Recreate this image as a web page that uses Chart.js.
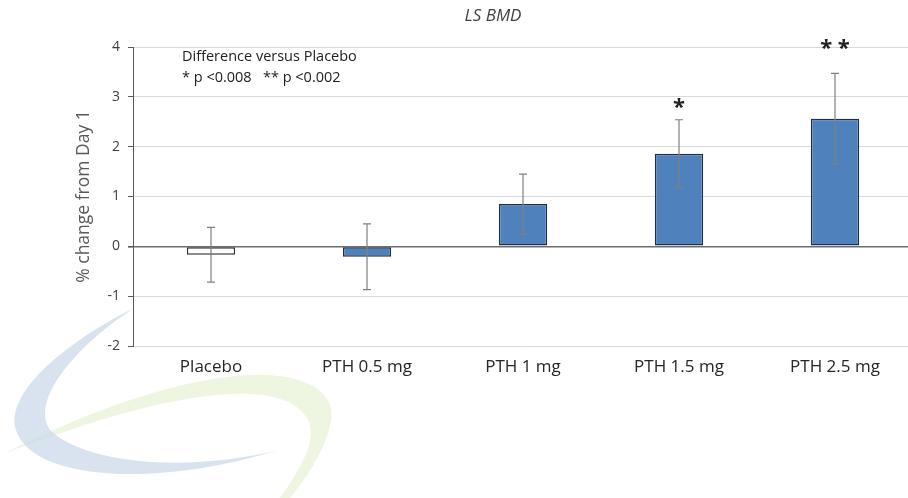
<!DOCTYPE html>
<html>
<head>
<meta charset="utf-8">
<script src="https://cdn.jsdelivr.net/npm/chart.js@4"></script>
<style>
  html, body { margin: 0; padding: 0; background: #fff; overflow: hidden; }
  #wrap { width: 913px; height: 498px; }
</style>
</head>
<body>
<div id="wrap"><canvas id="bmd-chart" width="913" height="498"></canvas></div>
<script>
// LS BMD, % change from Day 1
const groups = ['Placebo', 'PTH 0.5 mg', 'PTH 1 mg', 'PTH 1.5 mg', 'PTH 2.5 mg'];
const meanChange = [-0.17, -0.21, 0.85, 1.86, 2.56];
const errSize = [0.55, 0.66, 0.60, 0.68, 0.91];
const starMarks = ['', '', '', '*', '**'];
const starLevel = [null, null, null, 2.86, 4.04];
const yTicks = [-2, -1, 0, 1, 2, 3, 4];

const FONT = "'Open Sans', 'DejaVu Sans', sans-serif";

// faint logo swoosh behind the plot
const swoosh = {
  id: 'swoosh',
  beforeDraw(chart) {
    const c = chart.ctx;
    c.save();
    c.fillStyle = '#fff';
    c.fillRect(0, 0, chart.width, chart.height);
    // green arc
    c.fillStyle = 'rgba(226, 238, 204, 0.6)';
    c.beginPath();
    c.moveTo(3, 454);
    c.bezierCurveTo(90, 410, 180, 378, 250, 375);
    c.bezierCurveTo(310, 373, 336, 395, 331, 420);
    c.bezierCurveTo(326, 450, 305, 480, 290, 498);
    c.lineTo(280, 498);
    c.bezierCurveTo(300, 470, 318, 440, 308, 420);
    c.bezierCurveTo(298, 400, 270, 392, 230, 394);
    c.bezierCurveTo(160, 398, 80, 425, 3, 454);
    c.closePath();
    c.fill();
    // blue crescent
    c.fillStyle = 'rgba(200, 215, 232, 0.7)';
    c.beginPath();
    c.moveTo(134, 308);
    c.bezierCurveTo(60, 345, 5, 395, 16, 430);
    c.bezierCurveTo(30, 478, 150, 490, 278, 450);
    c.bezierCurveTo(200, 470, 95, 468, 52, 432);
    c.bezierCurveTo(28, 405, 70, 350, 134, 308);
    c.closePath();
    c.fill();
    c.restore();
  }
};

// title, note text, error bars and significance stars
const extras = {
  id: 'extras',
  afterDatasetsDraw(chart) {
    const c = chart.ctx;
    const y = chart.scales.y;
    const bars = chart.getDatasetMeta(0).data;
    c.save();
    c.strokeStyle = '#808080';
    c.lineWidth = 1.2;
    bars.forEach((bar, i) => {
      const top = y.getPixelForValue(meanChange[i] + errSize[i]);
      const bot = y.getPixelForValue(meanChange[i] - errSize[i]);
      c.beginPath();
      c.moveTo(bar.x, top); c.lineTo(bar.x, bot);
      c.moveTo(bar.x - 4, top); c.lineTo(bar.x + 4, top);
      c.moveTo(bar.x - 4, bot); c.lineTo(bar.x + 4, bot);
      c.stroke();
      if (starMarks[i]) {
        c.fillStyle = '#222';
        c.font = 'bold 22px ' + FONT;
        c.textAlign = 'center';
        c.textBaseline = 'middle';
        c.fillText(starMarks[i].split('').join(' '), bar.x, y.getPixelForValue(starLevel[i]) + 4);
      }
    });
    c.fillStyle = '#404040';
    c.font = 'italic 17px ' + FONT;
    c.textAlign = 'center';
    c.textBaseline = 'middle';
    c.fillText('LS BMD', 493, 16);
    c.fillStyle = '#222';
    c.font = '14.5px ' + FONT;
    c.textAlign = 'left';
    c.fillText('Difference versus Placebo', 182, 57);
    c.fillText('* p <0.008   ** p <0.002', 182, 78);
    c.restore();
  }
};

const config = {
  type: 'bar',
  data: {
    labels: groups,
    datasets: [{
      data: meanChange,
      backgroundColor: meanChange.map((v, i) => i === 0 ? '#ffffff' : '#4f81bd'),
      borderColor: meanChange.map((v, i) => i === 0 ? '#333333' : '#1f2f47'),
      borderWidth: 1.5,
      borderSkipped: false,
      barPercentage: 0.31,
      categoryPercentage: 1
    }]
  },
  options: {
    responsive: false,
    animation: false,
    layout: { padding: { top: 47, left: 0, right: 0, bottom: 0 } },
    plugins: {
      legend: { display: false },
      tooltip: { enabled: false },
      title: { display: false }
    },
    scales: {
      x: {
        offset: true,
        grid: { display: false, drawTicks: false },
        border: { display: false },
        ticks: {
          color: '#262626',
          padding: 11,
          font: { family: FONT, size: 17 }
        },
        afterFit: s => { s.height = 152; }
      },
      y: {
        min: -2,
        max: 4,
        afterBuildTicks: s => { s.ticks = yTicks.map(v => ({ value: v })); },
        border: { display: true, color: '#595959', width: 1 },
        grid: {
          color: ctx => ctx.tick && ctx.tick.value === 0 ? '#6e6e6e' : '#d9d9d9',
          lineWidth: ctx => ctx.tick && ctx.tick.value === 0 ? 1.6 : 1,
          tickColor: '#595959',
          tickLength: 5
        },
        ticks: {
          color: '#404040',
          padding: 8,
          font: { family: FONT, size: 14 }
        },
        title: {
          display: true,
          text: '% change from Day 1',
          color: '#595959',
          padding: { top: 74, bottom: 0 },
          font: { family: FONT, size: 17.5 }
        },
        afterFit: s => { s.width = 133; }
      }
    }
  },
  plugins: [swoosh, extras]
};

const chart = new Chart(document.getElementById('bmd-chart').getContext('2d'), config);
</script>
</body>
</html>
